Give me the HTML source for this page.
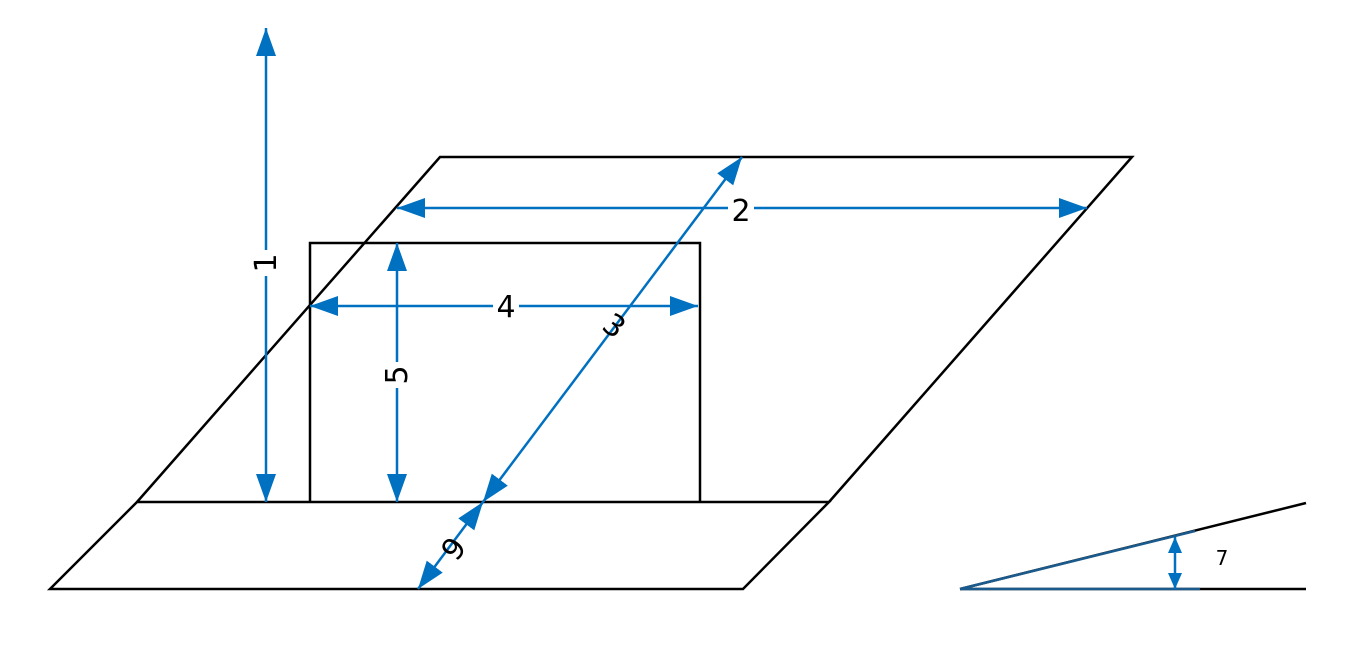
<!DOCTYPE html>
<html><head><meta charset="utf-8"><style>
html,body{margin:0;padding:0;background:#fff;}
svg{display:block;}
text{font-family:"DejaVu Sans","Liberation Sans",sans-serif;fill:#000;}
</style></head><body>
<svg width="1345" height="645" viewBox="0 0 1345 645" xmlns="http://www.w3.org/2000/svg">
<defs>
<marker id="a" markerWidth="28" markerHeight="20" refX="28" refY="10" orient="auto-start-reverse" markerUnits="userSpaceOnUse">
<path d="M0,0 L28,10 L0,20 Z" fill="#0070c0"/>
</marker>
<marker id="s" markerWidth="16" markerHeight="14" refX="16" refY="7" orient="auto-start-reverse" markerUnits="userSpaceOnUse">
<path d="M0,0 L16,7 L0,14 Z" fill="#0070c0"/>
</marker>
</defs>
<g stroke="#000" stroke-width="2.5" fill="none">
<polyline points="137,502 440,157 1132,157 829,502"/>
<polygon points="137,502 829,502 743,589 50,589"/>
<polyline points="310,502 310,243 700,243 700,502"/>
<line x1="960" y1="589" x2="1306" y2="503"/>
<line x1="960" y1="589" x2="1306" y2="589"/>
</g>
<g stroke="#0070c0" stroke-width="2.5" fill="none">
<line x1="960" y1="589" x2="1195" y2="531" stroke="#1a5a8c"/>
<line x1="960" y1="589" x2="1200" y2="589" stroke="#1a5a8c"/>
<line x1="266" y1="28" x2="266" y2="502" marker-start="url(#a)" marker-end="url(#a)"/>
<line x1="397" y1="208" x2="1087" y2="208" marker-start="url(#a)" marker-end="url(#a)"/>
<line x1="310" y1="306" x2="698" y2="306" marker-start="url(#a)" marker-end="url(#a)"/>
<line x1="397" y1="243" x2="397" y2="502" marker-start="url(#a)" marker-end="url(#a)"/>
<line x1="742" y1="157" x2="483" y2="502" marker-start="url(#a)" marker-end="url(#a)"/>
<line x1="483" y1="502" x2="418" y2="589" marker-start="url(#a)" marker-end="url(#a)"/>
<line x1="1175" y1="537" x2="1175" y2="589" marker-start="url(#s)" marker-end="url(#s)"/>
</g>
<g font-size="30" text-anchor="middle">
<rect x="254" y="250" width="24" height="26" fill="#fff"/>
<text transform="translate(276,263) rotate(-90)">1</text>
<rect x="728" y="196" width="26" height="26" fill="#fff"/>
<text x="741" y="221">2</text>
<rect x="493" y="293" width="26" height="26" fill="#fff"/>
<text x="506" y="317">4</text>
<rect x="385" y="362" width="24" height="26" fill="#fff"/>
<text transform="translate(407,375) rotate(-90)">5</text>
<text transform="translate(608,334) rotate(37)">3</text>
<text transform="translate(462,555) rotate(-53)">9</text>
<text x="1222" y="565" font-size="20">7</text>
</g>
</svg>
</body></html>
